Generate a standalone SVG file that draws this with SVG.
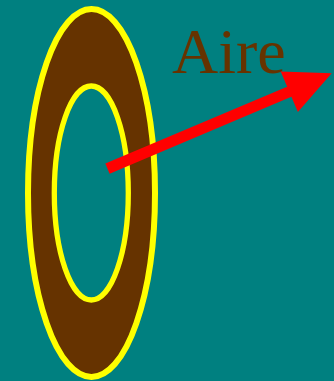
<svg xmlns="http://www.w3.org/2000/svg" width="334" height="381" viewBox="0 0 334 381">
<style>
.ring{fill:#663300;stroke:#ffff00;stroke-width:6}
.hole{fill:#008080;stroke:#ffff00;stroke-width:5.3}
.lbl{font-family:"Liberation Serif","Times New Roman",serif;font-size:64px;fill:#663300}
</style>
<rect width="334" height="381" fill="#008080"/>
<g id="ring">
<ellipse class="ring" cx="91.5" cy="193" rx="63.5" ry="184"/>
<ellipse class="hole" cx="91.3" cy="193" rx="37" ry="107"/>
</g>
<g id="label"><text class="lbl" x="172" y="73">Aire</text></g>
<g id="connectors">
<line x1="107.5" y1="168.6" x2="291" y2="91" stroke="#ff0000" stroke-width="11"/>
<polygon points="331.7,73.3 280.7,71.4 297.9,112" fill="#ff0000"/>
</g>
</svg>
